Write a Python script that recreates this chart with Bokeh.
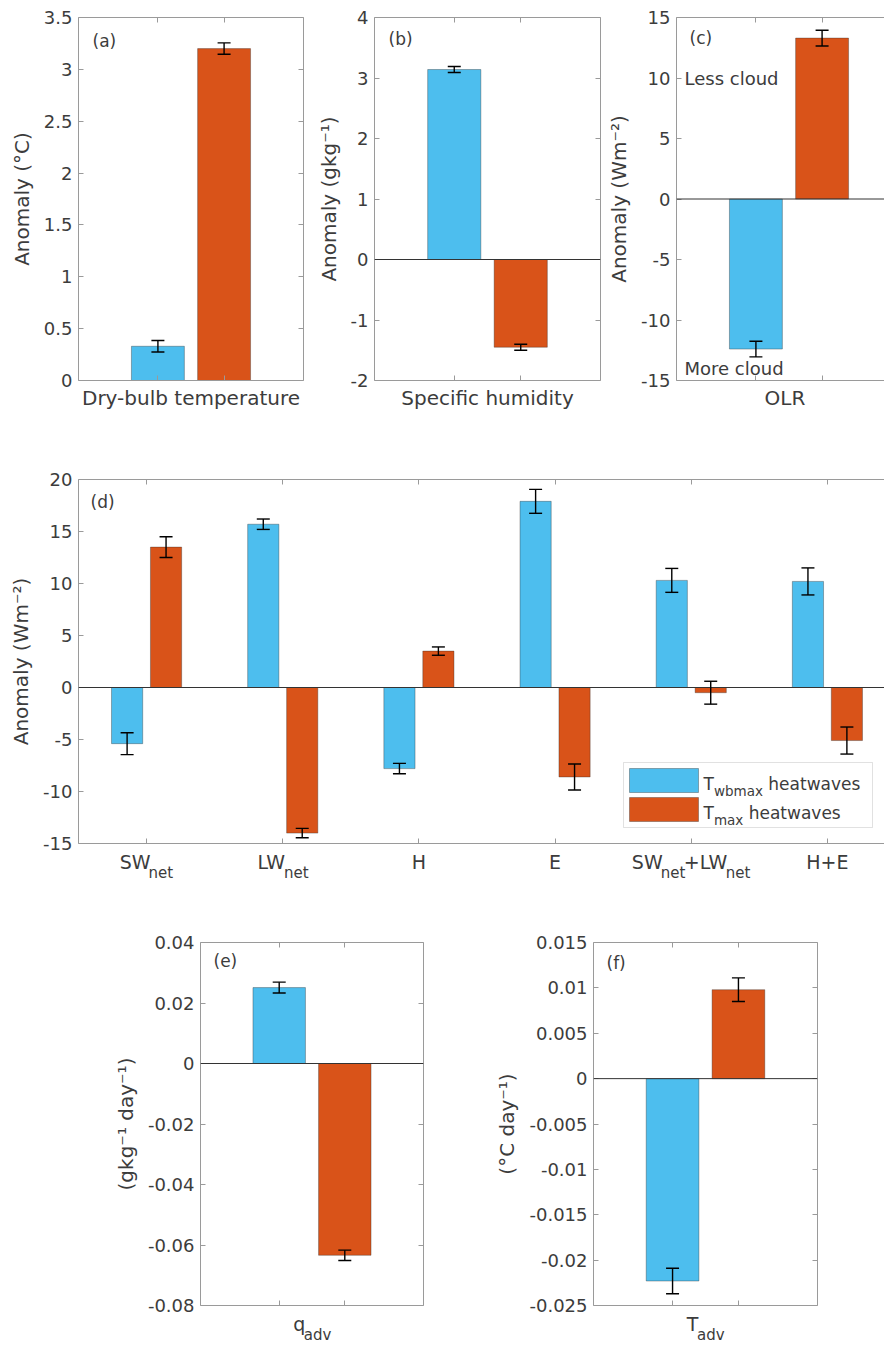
import numpy as np
from bokeh.plotting import figure
from bokeh.models import (ColumnDataSource, Whisker, TeeHead, Span, Label, FixedTicker,
                          LinearAxis, Range1d, BoxAnnotation)
from bokeh.layouts import column, row
from bokeh.embed import file_html
from bokeh.resources import INLINE

# ---------------- data ----------------
series_colors = ["#4DBEEE", "#D95319"]          # Twbmax heatwaves, Tmax heatwaves

# (a) dry-bulb temperature
a_vals = [0.33, 3.20]
a_err = [0.055, 0.055]
a_yticks = [0, 0.5, 1, 1.5, 2, 2.5, 3, 3.5]
a_ylabels = ["0", "0.5", "1", "1.5", "2", "2.5", "3", "3.5"]

# (b) specific humidity
b_vals = [3.14, -1.45]
b_err = [0.05, 0.05]
b_yticks = [-2, -1, 0, 1, 2, 3, 4]
b_ylabels = ["-2", "-1", "0", "1", "2", "3", "4"]

# (c) OLR
c_vals = [-12.4, 13.3]
c_err = [0.65, 0.65]
c_yticks = [-15, -10, -5, 0, 5, 10, 15]
c_ylabels = ["-15", "-10", "-5", "0", "5", "10", "15"]

# (d) surface energy budget
d_cats = [[("SW", False), ("net", True)],
          [("LW", False), ("net", True)],
          [("H", False)],
          [("E", False)],
          [("SW", False), ("net", True), ("+LW", False), ("net", True)],
          [("H+E", False)]]
d_wb_vals = [-5.4, 15.7, -7.8, 17.9, 10.3, 10.2]
d_wb_err = [1.05, 0.5, 0.5, 1.15, 1.15, 1.3]
d_tx_vals = [13.5, -14.0, 3.5, -8.6, -0.5, -5.1]
d_tx_err = [1.0, 0.45, 0.4, 1.25, 1.1, 1.3]
d_yticks = [-15, -10, -5, 0, 5, 10, 15, 20]
d_ylabels = ["-15", "-10", "-5", "0", "5", "10", "15", "20"]
legend_labels = [[("T", False), ("wbmax", True), (" heatwaves", False)],
                 [("T", False), ("max", True), (" heatwaves", False)]]

# (e) moisture advection
e_vals = [0.0251, -0.0634]
e_err = [0.0018, 0.0017]
e_yticks = [-0.08, -0.06, -0.04, -0.02, 0, 0.02, 0.04]
e_ylabels = ["-0.08", "-0.06", "-0.04", "-0.02", "0", "0.02", "0.04"]
e_xlabel = [("q", False), ("adv", True)]

# (f) temperature advection
f_vals = [-0.0223, 0.0098]
f_err = [0.0014, 0.0013]
f_yticks = [-0.025, -0.02, -0.015, -0.01, -0.005, 0, 0.005, 0.01, 0.015]
f_ylabels = ["-0.025", "-0.02", "-0.015", "-0.01", "-0.005", "0", "0.005", "0.01", "0.015"]
f_xlabel = [("T", False), ("adv", True)]

# ---------------- style helpers ----------------
FONT = "DejaVu Sans"
TXT = "#3c3c3c"
AX = "#9a9a9a"

DV = {' ': 651, '+': 1716, '-': 739, '.': 651, '(': 799, ')': 799,
      'A': 1401, 'C': 1430, 'D': 1577, 'E': 1294, 'H': 1540, 'L': 1141, 'S': 1300,
      'T': 1251, 'W': 2025, 'a': 1255, 'b': 1300, 'c': 1126, 'd': 1300, 'e': 1260,
      'g': 1300, 'h': 1298, 'i': 569, 'k': 1186, 'l': 569, 'm': 1995, 'n': 1298,
      'o': 1253, 'p': 1300, 'q': 1300, 'r': 842, 's': 1067, 't': 803, 'u': 1298,
      'v': 1212, 'w': 1675, 'x': 1212, 'y': 1212}


def text_w(s, fs):
    return sum(DV.get(ch, 1303) for ch in s) / 2048.0 * fs


def rich(p, x, y, parts, fs, sub_fs, x_off=0.0, y_off=0.0, align="center", sub_shift=0.47):
    """Text with subscripts inside the frame, made of Labels."""
    widths = [text_w(t, sub_fs if sub else fs) for t, sub in parts]
    pos = x_off - (sum(widths) / 2.0 if align == "center" else 0.0)
    for (t, sub), w in zip(parts, widths):
        f = sub_fs if sub else fs
        lead = len(t) - len(t.lstrip(" "))
        p.add_layout(Label(x=x, y=y, x_offset=pos + text_w(" " * lead, f),
                           y_offset=y_off - (sub_shift * fs if sub else 0.0),
                           text=t.strip(" "), text_font=FONT, text_font_size=f"{f:.1f}px",
                           text_align="left", text_baseline="alphabetic", text_color=TXT))
        pos += w


def rich_axis(p, centers, parts_list, fs, sub_fs, px_per_unit, main_standoff, sub_standoff,
              tight=0.93):
    """Tick labels with subscripts under the frame, made of two label-only axes."""
    main_t, main_s, sub_t, sub_s = [], [], [], []
    for xc, parts in zip(centers, parts_list):
        widths = [tight * text_w(t, sub_fs if sub else fs) for t, sub in parts]
        pos = -sum(widths) / 2.0
        for (t, sub), w in zip(parts, widths):
            c = float(xc) + (pos + w / 2.0) / px_per_unit
            if sub:
                sub_t.append(c); sub_s.append(t)
            else:
                main_t.append(c); main_s.append(t)
            pos += w
    for ticks, texts, size, standoff in ((main_t, main_s, fs, main_standoff),
                                         (sub_t, sub_s, sub_fs, sub_standoff)):
        if not ticks:
            continue
        ax = LinearAxis(ticker=FixedTicker(ticks=ticks, minor_ticks=[]),
                        major_label_overrides=dict(zip(ticks, texts)),
                        axis_line_color=None, major_tick_line_color=None,
                        minor_tick_line_color=None, major_tick_in=0, major_tick_out=0,
                        major_label_text_font=FONT, major_label_text_font_size=f"{size}px",
                        major_label_text_color=TXT, major_label_standoff=standoff)
        p.add_layout(ax, "below")


def style_axis(ax, ticks, labels=None, show=True):
    ax.ticker = FixedTicker(ticks=ticks, minor_ticks=[])
    ax.axis_line_color = AX
    ax.major_tick_line_color = AX
    ax.major_tick_in = 5
    ax.major_tick_out = 0
    ax.minor_tick_line_color = None
    ax.major_label_text_font = FONT
    ax.major_label_text_color = TXT
    ax.axis_label_text_font = FONT
    ax.axis_label_text_font_style = "normal"
    ax.axis_label_text_font_size = "20px"
    ax.axis_label_text_color = TXT
    if show:
        ax.major_label_overrides = dict(zip(ticks, labels))
        ax.major_label_text_font_size = "18px"
        ax.major_label_standoff = 6
        ax.axis_label_standoff = 7
    else:
        ax.major_label_overrides = {t: "" for t in ticks}
        ax.major_label_text_font_size = "0px"
        ax.major_label_standoff = 0
        ax.axis_label_standoff = 5


def make_fig(xr, yr, fw, fh, bl, br, bt, bb, xticks, yticks, ylabels, ylab, xlab=None,
             right=True, zero=True, tag="", tag_off=(14, 21)):
    p = figure(x_range=Range1d(*xr), y_range=Range1d(*yr), frame_width=fw, frame_height=fh,
               min_border_left=bl, min_border_right=br, min_border_top=bt, min_border_bottom=bb,
               output_backend="svg", toolbar_location=None, tools="",
               background_fill_color="white", border_fill_color="white",
               outline_line_color=None)
    p.grid.visible = False
    style_axis(p.yaxis[0], yticks, ylabels, show=True)
    p.yaxis[0].axis_label = ylab
    style_axis(p.xaxis[0], xticks, show=False)
    if xlab:
        p.xaxis[0].axis_label = xlab
    top = LinearAxis()
    style_axis(top, xticks, show=False)
    p.add_layout(top, "above")
    if right:
        rax = LinearAxis()
        style_axis(rax, yticks, show=False)
        p.add_layout(rax, "right")
    if zero:
        p.add_layout(Span(location=0, dimension="width", line_color="#333333", line_width=1))
    p.add_layout(Label(x=xr[0], y=yr[1], x_offset=tag_off[0], y_offset=-tag_off[1], text=tag,
                       text_font=FONT, text_font_size="17px", text_color=TXT,
                       text_align="left", text_baseline="middle"))
    return p


def bars(p, xs, vals, errs, colors, width):
    src = ColumnDataSource(dict(x=list(xs), top=list(vals), color=list(colors),
                                up=[v + e for v, e in zip(vals, errs)],
                                lo=[v - e for v, e in zip(vals, errs)]))
    p.vbar(x="x", top="top", bottom=0, width=width, fill_color="color", line_color="#2b2b2b",
           line_alpha=0.45, line_width=0.8, source=src)
    head = dict(size=13, line_color="black", line_width=1.4)
    p.add_layout(Whisker(base="x", upper="up", lower="lo", source=src, line_color="black",
                         line_width=1.4, level="overlay",
                         upper_head=TeeHead(**head), lower_head=TeeHead(**head)))


pair_x = [1, 2]
XR = (-0.2, 3.2)
px_per_unit = 225 / (XR[1] - XR[0])

# ---------------- row 1 ----------------
pa = make_fig(XR, (0, 3.5), 225, 363, 78, 10, 17, 60, pair_x, a_yticks, a_ylabels,
              "Anomaly (°C)", "Dry-bulb temperature", zero=False, tag="(a)", tag_off=(14, 23))
bars(pa, pair_x, a_vals, a_err, series_colors, 0.8)

pb = make_fig(XR, (-2, 4), 226, 363, 54, 4, 17, 60, pair_x, b_yticks, b_ylabels,
              "Anomaly (gkg⁻¹)", "Specific humidity", tag="(b)", tag_off=(14, 21))
bars(pb, pair_x, b_vals, b_err, series_colors, 0.8)

c_fw = 217
pc = make_fig((XR[0], XR[0] + c_fw / px_per_unit), (-15, 15), c_fw, 363, 70, 0, 17, 60, pair_x,
              c_yticks, c_ylabels, "Anomaly (Wm⁻²)", "OLR", right=False, tag="(c)", tag_off=(13, 20))
bars(pc, pair_x, c_vals, c_err, series_colors, 0.8)
pc.add_layout(Label(x=XR[0], y=10, x_offset=8, text="Less cloud", text_font=FONT,
                    text_font_size="18px", text_color=TXT, text_align="left", text_baseline="middle"))
pc.add_layout(Label(x=XR[0], y=-15, x_offset=8, y_offset=12, text="More cloud", text_font=FONT,
                    text_font_size="18px", text_color=TXT, text_align="left", text_baseline="middle"))

# ---------------- row 2 ----------------
d_x = np.arange(1, len(d_cats) + 1)
d_fw, d_fh = 806, 364
d_ppu = 817.0 / 6
d_xr = (0.5, 0.5 + d_fw / d_ppu)
d_yr = (-15, 20)
pd_ = make_fig(d_xr, d_yr, d_fw, d_fh, 78, 0, 39, 57, list(d_x), d_yticks, d_ylabels,
               "Anomaly (Wm⁻²)", None, right=False, tag="(d)", tag_off=(12, 22))
off, bw = 0.143, 0.229
bars(pd_, d_x - off, d_wb_vals, d_wb_err, [series_colors[0]] * 6, bw)
bars(pd_, d_x + off, d_tx_vals, d_tx_err, [series_colors[1]] * 6, bw)
rich_axis(pd_, d_x, d_cats, 19, 15, d_ppu, 7, -12)

# legend (positions in pixels from the frame's bottom-left corner)
sx = (d_xr[1] - d_xr[0]) / d_fw
sy = (d_yr[1] - d_yr[0]) / d_fh
def dx(px): return d_xr[0] + px * sx
def dy(py): return d_yr[0] + py * sy

pd_.add_layout(BoxAnnotation(left=dx(545), right=dx(794), bottom=dy(16), top=dy(81),
                             fill_color="white", fill_alpha=1.0, line_color=AX, line_width=1))
for i, (col, parts) in enumerate(zip(series_colors, legend_labels)):
    y0 = 51 - 29 * i
    pd_.add_layout(BoxAnnotation(left=dx(551), right=dx(620), bottom=dy(y0), top=dy(y0 + 24),
                                 fill_color=col, fill_alpha=1.0, line_color="#2b2b2b",
                                 line_alpha=0.45, line_width=0.8))
    rich(pd_, d_xr[0], d_yr[0], parts, 17, 13.5, x_off=625, y_off=60 - 29 * i, align="left")

# ---------------- row 3 ----------------
pe = make_fig(XR, (-0.08, 0.04), 223, 363, 200, 47, 42, 40, pair_x, e_yticks, e_ylabels,
              "(gkg⁻¹ day⁻¹)", None, tag="(e)", tag_off=(13, 18))
bars(pe, pair_x, e_vals, e_err, series_colors, 0.8)
rich_axis(pe, [1.5], [e_xlabel], 19, 15, 223 / (XR[1] - XR[0]), 7, -12)

pf = make_fig(XR, (-0.025, 0.015), 224, 363, 123, 67, 42, 40, pair_x, f_yticks, f_ylabels,
              "(°C day⁻¹)", None, tag="(f)", tag_off=(13, 20))
bars(pf, pair_x, f_vals, f_err, series_colors, 0.8)
rich_axis(pf, [1.5], [f_xlabel], 19, 15, 224 / (XR[1] - XR[0]), 7, -12)

layout = column(row(pa, pb, pc), pd_, row(pe, pf))
open("out.html", "w").write(file_html(layout, INLINE))
